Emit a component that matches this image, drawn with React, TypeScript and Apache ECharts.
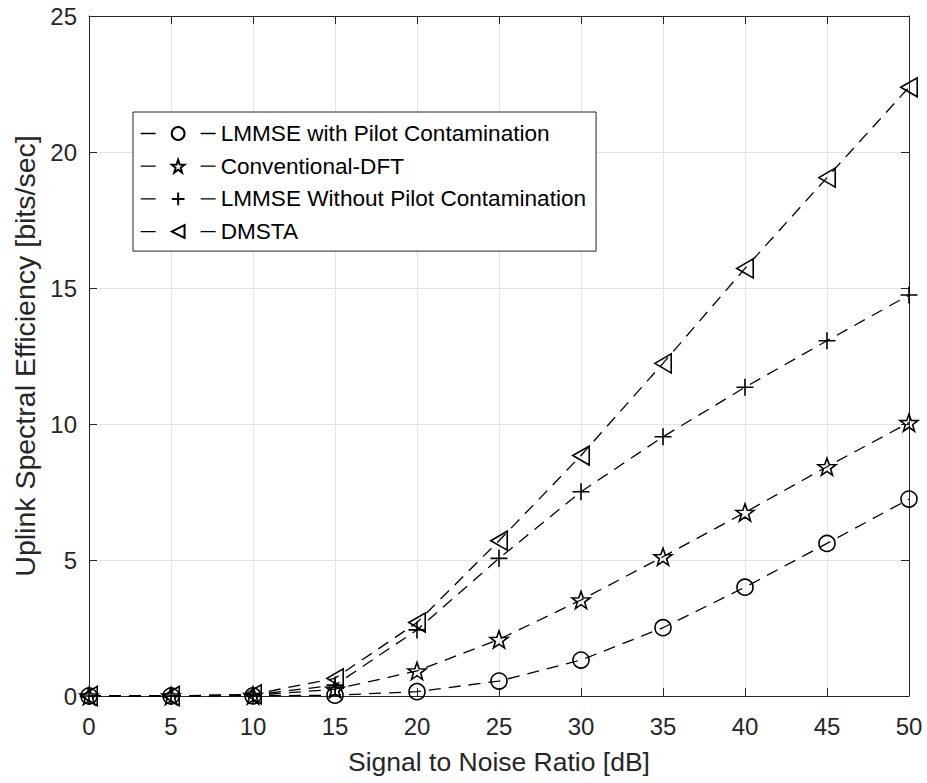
import React, { useEffect, useRef } from "react";
import * as echarts from "echarts";

const snr = [0, 5, 10, 15, 20, 25, 30, 35, 40, 45, 50];
const lmmsePilot = [0, 0, 0.005, 0.03, 0.16, 0.55, 1.32, 2.51, 4.0, 5.61, 7.24];
const convDft = [0, 0, 0.02, 0.25, 0.92, 2.08, 3.53, 5.12, 6.75, 8.43, 10.05];
const lmmseNoPilot = [0, 0, 0.04, 0.4, 2.43, 5.06, 7.51, 9.53, 11.35, 13.06, 14.74];
const dmsta = [0, 0, 0.06, 0.65, 2.7, 5.71, 8.84, 12.23, 15.72, 19.06, 22.38];

const seriesNames = [
  "LMMSE with Pilot Contamination",
  "Conventional-DFT",
  "LMMSE Without Pilot Contamination",
  "DMSTA",
];

const FONT = "'Liberation Sans', Arial, Helvetica, sans-serif";
const AXIS = "#262626";

const STAR =
  "path://M10,0 L12.35,6.76 L19.51,6.91 L13.8,11.24 L15.88,18.09 L10,14 L4.12,18.09 L6.2,11.24 L0.49,6.91 L7.65,6.76 Z";
const PLUS = "path://M10,0 L10,20 M0,10 L20,10";
const TRI_LEFT = "path://M0,10 L17.3,0 L17.3,20 Z";

export default function App() {
  const ref = useRef<HTMLDivElement>(null);
  useEffect(() => {
    document.body.style.margin = "0";
    if (!ref.current) return;
    const chart = echarts.init(ref.current, null, { renderer: "svg" });
    const mk = (name: string, vals: number[], symbol: string, size: number) => ({
      name,
      type: "line",
      data: snr.map((x, i) => [x, vals[i]]),
      symbol,
      symbolSize: size,
      symbolKeepAspect: true,
      showAllSymbol: true,
      lineStyle: { color: "#000", width: 1.3, type: [12, 8] },
      itemStyle: { color: "none", borderColor: "#000", borderWidth: 1.6 },
      emphasis: { disabled: true },
      z: 3,
    });
    chart.setOption({
      animation: false,
      textStyle: { fontFamily: FONT },
      grid: { left: 89, right: 18, top: 16, bottom: 87, containLabel: false },
      legend: {
        orient: "vertical",
        left: 133,
        top: 112,
        padding: [10, 10, 8, 7],
        itemWidth: 75,
        itemHeight: 16,
        itemGap: 9.7,
        backgroundColor: "#fff",
        borderColor: AXIS,
        borderWidth: 1,
        lineStyle: { type: [15, 45], width: 1.3, color: "#000" },
        textStyle: { fontFamily: FONT, fontSize: 22.6, color: "#000" },
        data: seriesNames,
      },
      xAxis: [
        {
          type: "value",
          min: 0,
          max: 50,
          interval: 5,
          name: "Signal to Noise Ratio [dB]",
          nameLocation: "middle",
          nameGap: 52,
          nameTextStyle: { fontSize: 26.5, color: AXIS, fontFamily: FONT },
          axisLine: { show: true, onZero: false, lineStyle: { color: AXIS, width: 1 } },
          axisTick: { show: true, inside: true, length: 8, lineStyle: { color: AXIS } },
          axisLabel: { fontSize: 24, color: AXIS, margin: 18, fontFamily: FONT },
          splitLine: { show: true, lineStyle: { color: "#e3e3e3", width: 1 } },
        },
        {
          type: "value",
          position: "top",
          min: 0,
          max: 50,
          interval: 5,
          axisLine: { show: true, onZero: false, lineStyle: { color: AXIS, width: 1 } },
          axisTick: { show: true, inside: true, length: 8, lineStyle: { color: AXIS } },
          axisLabel: { show: false },
          splitLine: { show: false },
        },
      ],
      yAxis: [
        {
          type: "value",
          min: 0,
          max: 25,
          interval: 5,
          name: "Uplink Spectral Efficiency [bits/sec]",
          nameLocation: "middle",
          nameGap: 48,
          nameTextStyle: { fontSize: 28.5, color: AXIS, fontFamily: FONT },
          axisLine: { show: true, onZero: false, lineStyle: { color: AXIS, width: 1 } },
          axisTick: { show: true, inside: true, length: 8, lineStyle: { color: AXIS } },
          axisLabel: { fontSize: 24, color: AXIS, margin: 12, fontFamily: FONT },
          splitLine: { show: true, lineStyle: { color: "#e3e3e3", width: 1 } },
        },
        {
          type: "value",
          position: "right",
          min: 0,
          max: 25,
          interval: 5,
          axisLine: { show: true, onZero: false, lineStyle: { color: AXIS, width: 1 } },
          axisTick: { show: true, inside: true, length: 8, lineStyle: { color: AXIS } },
          axisLabel: { show: false },
          splitLine: { show: false },
        },
      ],
      series: [
        mk(seriesNames[0], lmmsePilot, "circle", 16),
        mk(seriesNames[1], convDft, STAR, 18),
        mk(seriesNames[2], lmmseNoPilot, PLUS, 17),
        mk(seriesNames[3], dmsta, TRI_LEFT, 19),
      ],
    });
    return () => chart.dispose();
  }, []);
  return <div ref={ref} style={{ width: 927, height: 783 }} />;
}
